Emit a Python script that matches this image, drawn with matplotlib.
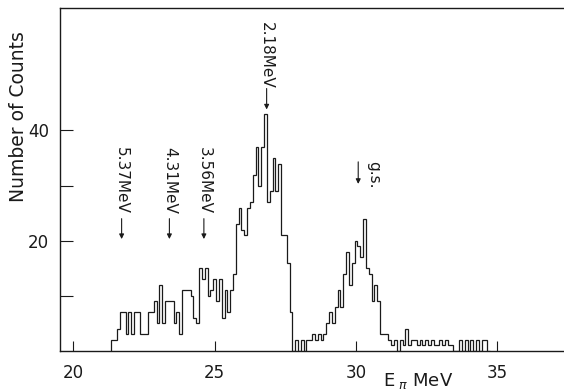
import numpy as np
import matplotlib
matplotlib.use("Agg")
import matplotlib.pyplot as plt

# histogram: 0.1 MeV bins starting at 21.35 MeV
bin_start = 21.35
bin_width = 0.1
counts = [
    2, 2, 4, 7, 7, 3, 7, 3, 7, 7,
    3, 3, 3, 7, 7, 9, 5, 12, 5, 9,
    9, 9, 5, 7, 3, 11, 11, 11, 10, 6,
    5, 15, 13, 15, 10, 11, 13, 9, 13, 6,
    11, 7, 11, 14, 23, 26, 22, 21, 26, 27,
    32, 37, 30, 37, 43, 27, 29, 35, 29, 34,
    21, 21, 16, 7, 0, 2, 0, 2, 0, 2,
    2, 3, 2, 3, 2, 3, 5, 7, 5, 8,
    11, 8, 14, 18, 12, 16, 20, 19, 17, 24,
    15, 14, 9, 12, 9, 3, 3, 3, 2, 1,
    2, 0, 2, 1, 4, 1, 2, 2, 1, 2,
    1, 2, 1, 2, 1, 1, 2, 1, 2, 1,
    1, 0, 0, 2, 0, 2, 0, 2, 0, 2,
    0, 2, 2, 0,
]

# level markers: label, energy, text top, arrow tail, arrow tip (counts)
markers = [
    ("5.37MeV", 21.71, 37.0, 24.0, 20.3),
    ("4.31MeV", 23.40, 37.0, 24.0, 20.3),
    ("3.56MeV", 24.62, 37.0, 24.0, 20.3),
    ("2.18MeV", 26.84, 59.6, 47.6, 43.8),
]
gs_energy = 30.08

ink = "#1a1a1a"
plt.rcParams["font.family"] = ["DejaVu Sans"]

fig = plt.figure(figsize=(5.64, 3.91), dpi=100)
ax = fig.add_axes([60 / 564, 40 / 391, 504 / 564, 343 / 391])

edges = bin_start + bin_width * np.arange(len(counts) + 1)
ax.stairs(counts, edges, color=ink, lw=0.9, baseline=0)

ax.set_xlim(19.53, 37.36)
ax.set_ylim(0, 62.2)

for lab, e, top, tail, tip in markers:
    ax.text(e, top, lab, rotation=270, ha="center", va="top",
            fontsize=11, color=ink)
    ax.annotate("", xy=(e, tip), xytext=(e, tail),
                arrowprops=dict(arrowstyle="-|>", lw=0.8, color=ink,
                                mutation_scale=7, shrinkA=0, shrinkB=0))

ax.annotate("", xy=(gs_energy, 30.3), xytext=(gs_energy, 34.3),
            arrowprops=dict(arrowstyle="-|>", lw=0.8, color=ink,
                            mutation_scale=7, shrinkA=0, shrinkB=0))
ax.text(gs_energy + 0.55, 34.4, "g.s.", rotation=270, ha="center", va="top",
        fontsize=11, color=ink)

ax.spines["right"].set_visible(False)
for s in ["left", "top", "bottom"]:
    ax.spines[s].set_color(ink)
    ax.spines[s].set_linewidth(1.0)

ax.set_xticks([20, 25, 30, 35])
ax.set_xticklabels(["20", "25", "30", "35"])
ax.set_yticks([10, 20, 30, 40])
ax.set_yticklabels(["", "20", "", "40"])
ax.tick_params(axis="x", direction="in", length=7, width=0.8, pad=9,
               labelsize=12, colors=ink, top=False)
ax.tick_params(axis="y", direction="in", length=9, width=0.8, pad=8,
               labelsize=12, colors=ink, right=False)

fig.text(19 / 564, 1 - 117 / 391, "Number of Counts", rotation=90,
         ha="center", va="center", fontsize=13.5, color=ink)
fig.text(418 / 564, 1 - 381 / 391, r"E$_{\ \pi}$ MeV", ha="center",
         va="center", fontsize=13, color=ink)

fig.savefig("out.png", dpi=100, facecolor="white")
